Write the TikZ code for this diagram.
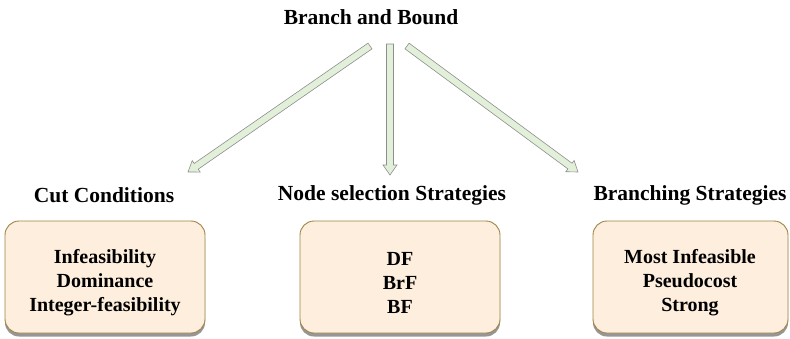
\documentclass[tikz,border=0pt]{standalone}
\usepackage{fontspec}
\setmainfont{Liberation Serif}
\usetikzlibrary{calc,shadows}
\definecolor{arrowfill}{HTML}{E2EFD9}
\definecolor{arrowline}{HTML}{8E8E8E}
\definecolor{boxfill}{HTML}{FDEEDD}
\definecolor{boxline}{HTML}{A08444}
\tikzset{
  heading/.style={font=\bfseries\fontsize{21.5}{24}\selectfont, inner sep=0pt},
  catbox/.style={draw=boxline, line width=0.9pt, fill=boxfill, rounded corners=14pt,
    drop shadow={shadow xshift=0pt, shadow yshift=-3.5pt, opacity=0.55, fill=black!75}},
  boxtext/.style={font=\bfseries\fontsize{20}{24}\selectfont, align=center, inner sep=0pt},
  blockarrow/.style={draw=arrowline, fill=arrowfill, line width=0.6pt, line join=miter}
}
\newcommand{\blockarr}[2]{%
  \coordinate (tmpC) at ($(#2)!10pt!(#1)$);
  \path[blockarrow] ($(#1)!3.5pt!90:(#2)$) -- ($(tmpC)!3.5pt!-90:(#1)$) -- ($(tmpC)!7pt!-90:(#1)$) -- (#2)
    -- ($(tmpC)!7pt!90:(#1)$) -- ($(tmpC)!3.5pt!90:(#1)$) -- ($(#1)!3.5pt!-90:(#2)$) -- cycle;
}
\begin{document}
\begin{tikzpicture}[x=1pt,y=-1pt]
\useasboundingbox (0,0) rectangle (790,338);
\node[heading] (title) at (371,17) {Branch and Bound};
% arrows
\coordinate (a1s) at (370,46); \coordinate (a1e) at (188,172);
\coordinate (a2s) at (390,44); \coordinate (a2e) at (390,175);
\coordinate (a3s) at (407,46); \coordinate (a3e) at (578,172);
\blockarr{a1s}{a1e}
\blockarr{a2s}{a2e}
\blockarr{a3s}{a3e}
% headings
\node[heading] (cutH) at (104,195) {Cut Conditions};
\node[heading] (nodeH) at (392,195) {Node selection Strategies};
\node[heading] (brH) at (690,195) {Branching Strategies};
% boxes
\path[catbox] (5,221) rectangle (205,333);
\path[catbox] (300,221) rectangle (500,333);
\path[catbox] (593,221) rectangle (788,333);
\node[boxtext] (cutB) at (105,283) {Infeasibility\\Dominance\\Integer-feasibility};
\node[boxtext] (nodeB) at (400,283) {DF\\BrF\\BF};
\node[boxtext] (brB) at (690,283) {Most Infeasible\\Pseudocost\\Strong};
\end{tikzpicture}
\end{document}
